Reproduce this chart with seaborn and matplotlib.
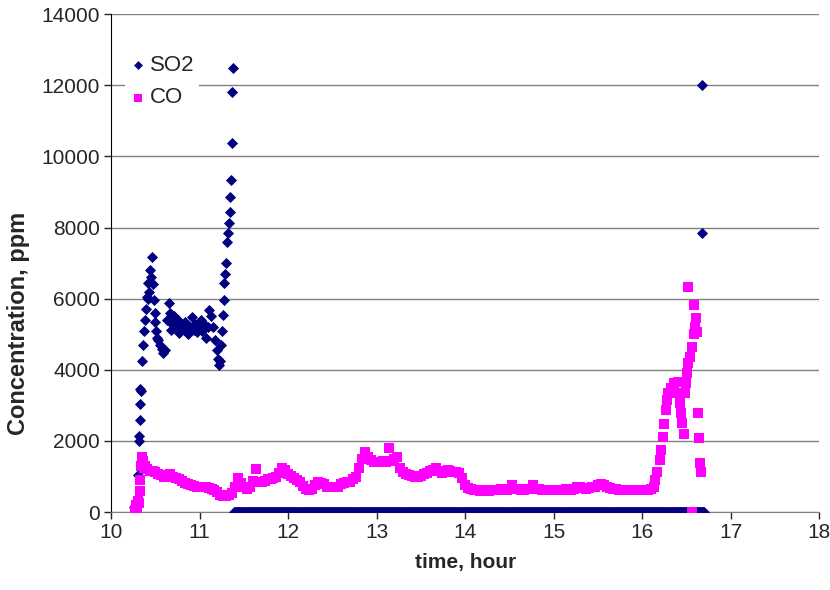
import numpy as np
import pandas as pd
import seaborn as sns
from matplotlib import pyplot as plt

# SO2 readings before the analyser falls to zero (hour, ppm)
so2_time = [10.26, 10.28, 10.30, 10.31, 10.315, 10.32, 10.325, 10.33, 10.335, 10.35,
            10.36, 10.37, 10.38, 10.39, 10.40, 10.41, 10.42, 10.43, 10.44, 10.45,
            10.46, 10.47, 10.48, 10.49, 10.50, 10.51, 10.52, 10.53, 10.55, 10.57,
            10.59, 10.61, 10.63, 10.65, 10.66, 10.67, 10.69, 10.71, 10.73, 10.75,
            10.77, 10.79, 10.81, 10.83, 10.85, 10.87, 10.89, 10.91, 10.93, 10.95,
            10.97, 10.99, 11.01, 11.03, 11.05, 11.07, 11.09, 11.11, 11.13, 11.15,
            11.17, 11.19, 11.21, 11.22, 11.23, 11.24, 11.25, 11.26, 11.27, 11.28,
            11.29, 11.30, 11.31, 11.32, 11.33, 11.34, 11.345, 11.35, 11.36, 11.37,
            11.38]
so2_ppm = [150, 200, 1050, 2000, 2150, 2600, 3050, 3450, 3400, 4250,
           4700, 5100, 5400, 5700, 6050, 6000, 6450, 6200, 6800, 6600,
           7170, 6400, 5950, 5600, 5350, 5100, 4900, 4830, 4700, 4600,
           4470, 4550, 5400, 5870, 5600, 5110, 5300, 5500, 5250, 5400,
           5030, 5200, 5150, 5350, 5100, 5000, 5200, 5480, 5110, 5300,
           5050, 5250, 5400, 5100, 5300, 4900, 5200, 5680, 5500, 5200,
           4830, 4550, 4300, 4150, 4250, 4700, 5100, 5550, 5960, 6430,
           6700, 7000, 7590, 7840, 8120, 8430, 8860, 9330, 10370, 11800,
           12500]
# SO2 sits at 0 ppm between these hours (logged every 30 s)
so2_zero_from, so2_zero_to = 11.39, 16.70
so2_end_time = [16.68, 16.68]
so2_end_ppm = [12000, 7850]

# CO start-up
co_start_time = [10.27, 10.28, 10.29, 10.30, 10.31, 10.32, 10.33, 10.34, 10.35, 10.36, 10.37, 10.38]
co_start_ppm = [50, 200, 100, 300, 250, 600, 900, 1300, 1550, 1450, 1250, 1300]
# CO every 2 min from 10.40 h
co_mid_ppm = [1200, 1150, 1150, 1120, 1080, 1030, 1000, 1050, 1060, 1000,
              960, 920, 880, 830, 800, 760, 730, 720, 700, 710,
              700, 690, 660, 620, 560, 480, 450, 450, 480, 540,
              700, 950, 820, 700, 660, 720, 880, 1200, 860, 850,
              880, 920, 940, 960, 1000, 1100, 1250, 1180, 1080, 1020,
              960, 900, 840, 740, 660, 620, 660, 760, 850, 830,
              780, 720, 700, 700, 710, 720, 780, 820, 840, 860,
              920, 1000, 1250, 1500, 1700, 1550, 1460, 1420, 1400, 1420,
              1450, 1420, 1800, 1450, 1480, 1550, 1250, 1120, 1080, 1040,
              1020, 1000, 990, 1020, 1080, 1100, 1150, 1180, 1230, 1150,
              1100, 1130, 1180, 1160, 1140, 1130, 1100, 950, 760, 680,
              640, 620, 610, 600, 600, 610, 600, 620, 610, 620,
              640, 620, 610, 650, 760, 660, 640, 620, 620, 640,
              660, 760, 660, 640, 620, 620, 630, 620, 610, 620,
              630, 620, 640, 650, 620, 640, 700, 720, 680, 650,
              680, 700, 720, 760, 800, 760, 720, 680, 660, 640,
              620, 620, 610, 620, 620, 610, 620, 620, 610, 620,
              620, 640, 700]
# CO final burst
co_end_time = [16.147, 16.166, 16.196, 16.21, 16.234, 16.249, 16.268, 16.279, 16.297, 16.324,
               16.362, 16.40, 16.41, 16.43, 16.437, 16.449, 16.467, 16.486, 16.497, 16.51,
               16.523, 16.54, 16.56, 16.58, 16.60, 16.618, 16.61, 16.59, 16.523, 16.636,
               16.644, 16.655, 16.663, 16.56]
co_end_ppm = [900, 1130, 1460, 1740, 2120, 2490, 2870, 3150, 3340, 3480,
              3620, 3660, 3340, 3060, 2780, 2500, 2210, 3340, 3620, 3900,
              4180, 4370, 4650, 5020, 5210, 5060, 5450, 5820, 6320, 2780,
              2080, 1370, 1130, 0]

so2_zero_time = np.arange(so2_zero_from, so2_zero_to, 1 / 120)
so2 = pd.DataFrame({
    'time': list(so2_time) + list(so2_zero_time) + so2_end_time,
    'ppm': list(so2_ppm) + [0] * len(so2_zero_time) + so2_end_ppm,
})
co_mid_time = 10.4 + np.arange(len(co_mid_ppm)) / 30
co = pd.DataFrame({
    'time': co_start_time + list(co_mid_time) + co_end_time,
    'ppm': co_start_ppm + co_mid_ppm + co_end_ppm,
})

sns.set_style('white')
plt.rcParams['font.family'] = ['Liberation Sans', 'DejaVu Sans']

fig = plt.figure(figsize=(8.3, 5.9), dpi=100)
ax = fig.add_axes([0.134, 0.132, 0.853, 0.844])

sns.scatterplot(data=so2, x='time', y='ppm', marker='D', s=32, color='#000080',
                linewidth=0, label='SO2', ax=ax, zorder=3)
sns.scatterplot(data=co, x='time', y='ppm', marker='s', s=42, color='#FF00FF',
                linewidth=0, label='CO', ax=ax, zorder=4)

ax.set_xlim(10, 18)
ax.set_ylim(0, 14000)
ax.set_xticks(range(10, 19))
ax.set_yticks(range(0, 14001, 2000))
ax.yaxis.grid(True, color='#808080', linewidth=1)
ax.set_axisbelow(True)
for side in ['top', 'right']:
    ax.spines[side].set_visible(False)
ax.spines['left'].set_color('black')
ax.spines['bottom'].set_color('#808080')
ax.tick_params(axis='both', direction='out', length=5, width=1, labelsize=15,
               left=True, bottom=True, pad=3)
ax.set_xlabel('time, hour', fontsize=15, fontweight='bold', labelpad=8)
ax.set_ylabel('Concentration, ppm', fontsize=17, fontweight='bold', va='center')
ax.yaxis.set_label_coords(-0.131, 0.38)

leg = ax.legend(loc='upper left', bbox_to_anchor=(0.004, 0.95), fontsize=16,
                frameon=True, facecolor='white', edgecolor='none', framealpha=1,
                handlelength=0.8, handletextpad=0.12, borderpad=0.2,
                labelspacing=0.53, markerscale=0.8)

plt.savefig('out.png', dpi=100)
